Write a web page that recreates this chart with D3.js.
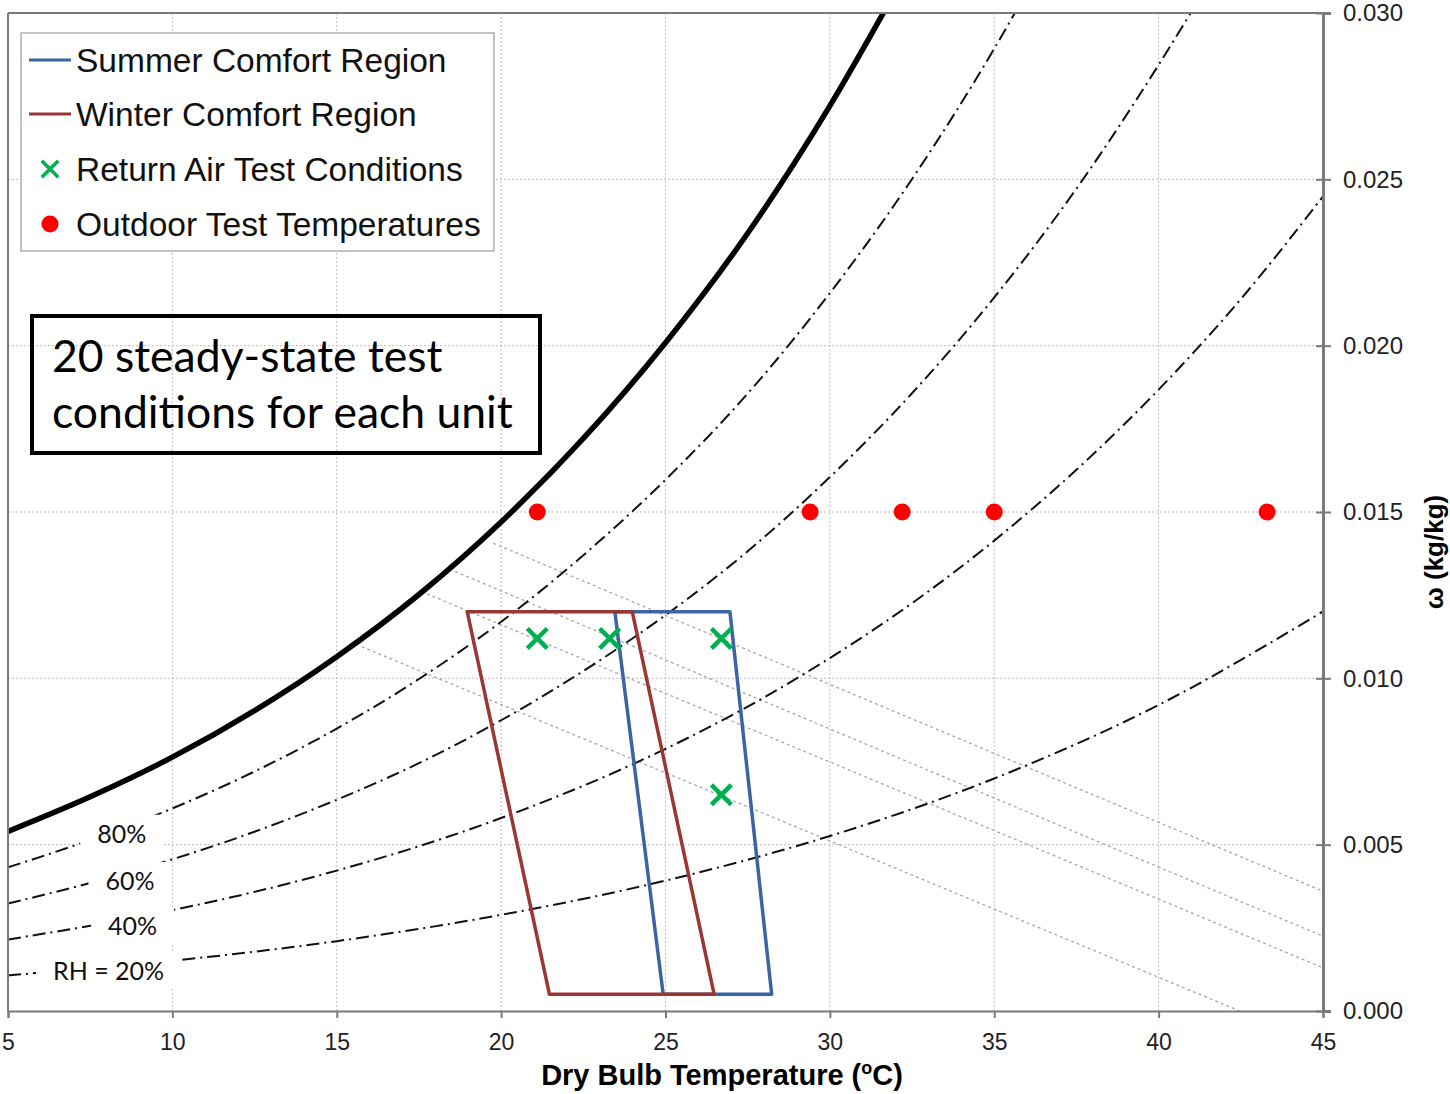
<!DOCTYPE html>
<html>
<head>
<meta charset="utf-8">
<script src="https://cdn.jsdelivr.net/npm/d3@7"></script>
<style>
  body { margin: 0; background: #fff; }
  svg { display: block; }
</style>
</head>
<body>
<svg id="chart" width="1450" height="1094"></svg>
<script>
// ---- values ----
const tempTicks = [5, 10, 15, 20, 25, 30, 35, 40, 45];
const wTicks = [0, 0.005, 0.010, 0.015, 0.020, 0.025, 0.030];

// saturation curve (RH = 100%)
const satT = [5, 7.5, 10, 12.5, 15, 17.5, 20, 22.5, 25, 27.5, 30, 32];
const satW = [0.00540, 0.00644, 0.00763, 0.00903, 0.01065, 0.01252, 0.01470, 0.01721, 0.02009, 0.02338, 0.02721, 0.03066];

// relative humidity curves
const rh80T = [5, 7.5, 10, 12.5, 15, 17.5, 20, 22.5, 25, 27.5, 30, 32.5, 35, 36];
const rh80W = [0.00432, 0.00514, 0.00609, 0.00720, 0.00849, 0.00998, 0.01170, 0.01370, 0.01597, 0.01856, 0.02158, 0.02501, 0.02893, 0.03065];
const rh60T = [5, 7.5, 10, 12.5, 15, 17.5, 20, 22.5, 25, 27.5, 30, 32.5, 35, 37.5, 40, 41];
const rh60W = [0.00323, 0.00385, 0.00456, 0.00539, 0.00635, 0.00745, 0.00874, 0.01022, 0.01190, 0.01382, 0.01605, 0.01857, 0.02145, 0.02472, 0.02844, 0.03004];
const rh40T = [5, 10, 15, 20, 25, 27.5, 30, 32.5, 35, 37.5, 40, 42.5, 45];
const rh40W = [0.00215, 0.00303, 0.00422, 0.00580, 0.00788, 0.00915, 0.01061, 0.01226, 0.01414, 0.01627, 0.01868, 0.02140, 0.02449];
const rh20T = [5, 10, 15, 20, 25, 30, 35, 40, 45];
const rh20W = [0.00107, 0.00151, 0.00210, 0.00289, 0.00392, 0.00526, 0.00699, 0.00920, 0.01201];
const rhLabels = ["80%", "60%", "40%", "RH = 20%"];

// wet-bulb lines through the return air points (start on saturation, end on frame)
const wbStartT = [15.76, 17.74, 18.60, 19.76];
const wbStartW = [0.01095, 0.01254, 0.01321, 0.01406];
const wbEndT = [42.47, 45, 45, 45];
const wbEndW = [0, 0.0013, 0.00225, 0.0036];

// comfort regions (corners, clockwise from top-left)
const summerT = [23.46, 26.96, 28.23, 24.93];
const summerW = [0.012, 0.012, 0.0005, 0.0005];
const winterT = [18.97, 23.99, 26.48, 21.47];
const winterW = [0.012, 0.012, 0.0005, 0.0005];

// test points
const returnT = [21.1, 23.3, 26.7, 26.7];
const returnW = [0.0112, 0.0112, 0.0112, 0.0065];
const outdoorT = [21.1, 29.4, 32.2, 35.0, 43.3];
const outdoorW = [0.015, 0.015, 0.015, 0.015, 0.015];

const legendNames = ["Summer Comfort Region", "Winter Comfort Region", "Return Air Test Conditions", "Outdoor Test Temperatures"];
const noteLines = ["20 steady-state test", "conditions for each unit"];

// ---- layout ----
const plot = { left: 8, right: 1323, top: 13, bottom: 1011 };
const blue = "#3a65a0", red = "#9a3734", green = "#00b050", dotRed = "#ff0000";
const gridColor = "#bdbdbd", axisColor = "#7a7a7a";
const sansFont = "'Liberation Sans', Arial, sans-serif";
const calFont = "Lato, 'Open Sans', sans-serif";

const svg = d3.select("#chart");
const x = d3.scaleLinear().domain([5, 45]).range([plot.left, plot.right]);
const y = d3.scaleLinear().domain([0, 0.030]).range([plot.bottom, plot.top]);

const zip = (ts, ws) => ts.map((t, i) => ({ t: t, w: ws[i] }));

svg.append("defs").append("clipPath").attr("id", "plotClip")
  .append("rect")
    .attr("x", plot.left).attr("y", plot.top)
    .attr("width", plot.right - plot.left).attr("height", plot.bottom - plot.top);

// gridlines
const grid = svg.append("g").attr("class", "grid");
grid.selectAll(".vgrid")
  .data(tempTicks.slice(1, -1))
  .enter().append("line")
    .attr("x1", d => x(d)).attr("x2", d => x(d))
    .attr("y1", plot.top).attr("y2", plot.bottom)
    .style("stroke", gridColor).style("stroke-width", 1).style("stroke-dasharray", "2,2");
grid.selectAll(".hgrid")
  .data(wTicks.slice(1, -1))
  .enter().append("line")
    .attr("x1", plot.left).attr("x2", plot.right)
    .attr("y1", d => y(d)).attr("y2", d => y(d))
    .style("stroke", gridColor).style("stroke-width", 1).style("stroke-dasharray", "2,2");

const inner = svg.append("g").attr("clip-path", "url(#plotClip)");

// wet-bulb lines
inner.selectAll(".wb")
  .data(wbStartT.map((t, i) => [{ t: t, w: wbStartW[i] }, { t: wbEndT[i], w: wbEndW[i] }]))
  .enter().append("path")
    .attr("class", "wb")
    .attr("d", d3.line().x(d => x(d.t)).y(d => y(d.w)))
    .style("fill", "none").style("stroke", "#a8a8a8").style("stroke-width", 1.3)
    .style("stroke-dasharray", "3,3");

// RH curves
const curve = d3.line().x(d => x(d.t)).y(d => y(d.w)).curve(d3.curveMonotoneX);
const rhSeries = [zip(rh80T, rh80W), zip(rh60T, rh60W), zip(rh40T, rh40W), zip(rh20T, rh20W)];
inner.selectAll(".rh")
  .data(rhSeries)
  .enter().append("path")
    .attr("class", "rh")
    .attr("d", curve)
    .style("fill", "none").style("stroke", "#111").style("stroke-width", 2)
    .style("stroke-dasharray", "13,5,2,5");

// RH labels with white boxes (anchors in data units)
const rhLabelT = [8.46, 8.71, 8.79, 8.06];
const rhLabelW = [0.00536, 0.00394, 0.00259, 0.00123];
const labelG = inner.append("g");
rhLabels.forEach((lab, i) => {
  const g = labelG.append("g");
  const box = g.append("rect").style("fill", "#fff");
  const txt = g.append("text")
    .attr("x", x(rhLabelT[i])).attr("y", y(rhLabelW[i]))
    .attr("text-anchor", "middle").attr("dominant-baseline", "central")
    .style("font-family", calFont).style("font-size", "25px").style("fill", "#111")
    .text(lab);
  const bb = txt.node().getBBox();
  box.attr("x", bb.x - 17).attr("y", bb.y - 3)
     .attr("width", bb.width + 34).attr("height", bb.height + 6);
});

// saturation curve
inner.append("path")
  .datum(zip(satT, satW))
  .attr("d", curve)
  .style("fill", "none").style("stroke", "#000").style("stroke-width", 5.5);

// comfort regions (winter drawn over summer)
const poly = d3.line().x(d => x(d.t)).y(d => y(d.w)).curve(d3.curveLinearClosed);
inner.append("path").datum(zip(summerT, summerW)).attr("d", poly)
  .style("fill", "none").style("stroke", blue).style("stroke-width", 3.5).style("stroke-linejoin", "round");
inner.append("path").datum(zip(winterT, winterW)).attr("d", poly)
  .style("fill", "none").style("stroke", red).style("stroke-width", 3.5).style("stroke-linejoin", "round");

// markers
const cross = d3.symbol().type(d3.symbolX).size(260);
inner.selectAll(".ret")
  .data(zip(returnT, returnW))
  .enter().append("path")
    .attr("transform", d => `translate(${x(d.t)},${y(d.w)})`)
    .attr("d", cross)
    .style("fill", "none").style("stroke", green).style("stroke-width", 4.5);
inner.selectAll(".out")
  .data(zip(outdoorT, outdoorW))
  .enter().append("circle")
    .attr("cx", d => x(d.t)).attr("cy", d => y(d.w)).attr("r", 8.5)
    .style("fill", dotRed);

// frame and axes
svg.append("line").attr("x1", plot.left).attr("x2", plot.left).attr("y1", plot.top).attr("y2", plot.bottom)
  .style("stroke", axisColor).style("stroke-width", 2);
svg.append("line").attr("x1", plot.left).attr("x2", plot.right).attr("y1", plot.top).attr("y2", plot.top)
  .style("stroke", axisColor).style("stroke-width", 2);

const xAxis = svg.append("g")
  .attr("transform", `translate(0,${plot.bottom})`)
  .call(d3.axisBottom(x).tickValues(tempTicks).tickSize(7).tickPadding(16).tickFormat(d3.format("d")));
xAxis.select(".domain").style("stroke", axisColor).style("stroke-width", 2);
xAxis.selectAll(".tick line").style("stroke", axisColor).style("stroke-width", 2);
xAxis.selectAll(".tick text")
  .style("font-family", sansFont).style("font-size", "23px").style("fill", "#222");

const yAxis = svg.append("g")
  .attr("transform", `translate(${plot.right},0)`)
  .call(d3.axisRight(y).tickValues(wTicks).tickSize(8).tickPadding(12).tickFormat(d3.format(".3f")));
yAxis.select(".domain").style("stroke", axisColor).style("stroke-width", 3);
yAxis.selectAll(".tick line").attr("x1", -7).style("stroke", axisColor).style("stroke-width", 2);
yAxis.selectAll(".tick text")
  .style("font-family", sansFont).style("font-size", "24px").style("fill", "#222");

// axis titles
const xTitle = svg.append("text")
  .attr("x", 722).attr("y", 1085)
  .attr("text-anchor", "middle")
  .style("font-family", sansFont).style("font-size", "29px").style("font-weight", "bold");
xTitle.append("tspan").text("Dry Bulb Temperature (");
xTitle.append("tspan").attr("dy", -11).style("font-size", "18px").text("o");
xTitle.append("tspan").attr("dy", 11).text("C)");

svg.append("text")
  .attr("transform", "translate(1443,552) rotate(-90)")
  .attr("text-anchor", "middle")
  .style("font-family", sansFont).style("font-size", "26px").style("font-weight", "bold")
  .text("ω (kg/kg)");

// legend
const legend = svg.append("g");
legend.append("rect")
  .attr("x", 21).attr("y", 33).attr("width", 473).attr("height", 218)
  .style("fill", "#fff").style("stroke", "#9a9a9a").style("stroke-width", 1.2);
const rowY = [60, 114, 169, 224];
legendNames.forEach((name, i) => {
  const yy = rowY[i];
  if (i < 2) {
    legend.append("line")
      .attr("x1", 29).attr("x2", 71).attr("y1", yy).attr("y2", yy)
      .style("stroke", i === 0 ? blue : red).style("stroke-width", 3);
  } else if (i === 2) {
    legend.append("path")
      .attr("transform", `translate(50,${yy})`)
      .attr("d", d3.symbol().type(d3.symbolX).size(180))
      .style("fill", "none").style("stroke", green).style("stroke-width", 3.5);
  } else {
    legend.append("circle").attr("cx", 50).attr("cy", yy).attr("r", 8.5).style("fill", dotRed);
  }
  legend.append("text")
    .attr("x", 76).attr("y", yy)
    .attr("dominant-baseline", "central")
    .style("font-family", sansFont).style("font-size", "33.5px").style("fill", "#111")
    .text(name);
});

// note box
svg.append("rect")
  .attr("x", 32).attr("y", 316).attr("width", 508).attr("height", 137)
  .style("fill", "none").style("stroke", "#000").style("stroke-width", 4);
noteLines.forEach((line, i) => {
  svg.append("text")
    .attr("x", 52).attr("y", 372 + i * 56)
    .style("font-family", calFont).style("font-size", "44.5px").style("fill", "#000")
    .text(line);
});
</script>
</body>
</html>
